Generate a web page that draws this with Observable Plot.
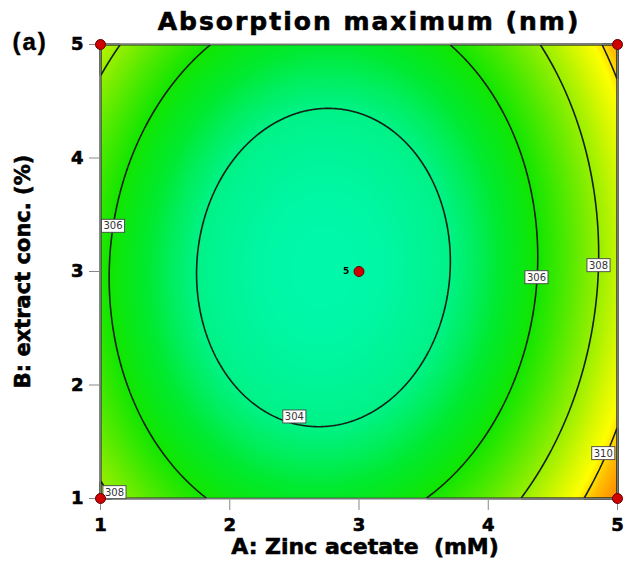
<!DOCTYPE html>
<html><head><meta charset="utf-8">
<script src="https://cdn.jsdelivr.net/npm/d3@7"></script>
<script src="https://cdn.jsdelivr.net/npm/@observablehq/plot@0.6"></script>
<style>body{margin:0;background:#fff}</style>
</head><body>
<div id="chart"></div>
<script>
const titleText = "Absorption maximum (nm)";
const panelTag = "(a)";
const xLabel = "A: Zinc acetate  (mM)";
const yLabel = "B: extract conc. (%)";
const xTicks = [1, 2, 3, 4, 5];
const yTicks = [1, 2, 3, 4, 5];
const contourLevels = [304, 306, 308, 310];
// fitted quadratic surface: minimum, centre (A,B), curvature A², B², AB
const surfaceMin = 302.92;
const surfaceCentre = [2.725, 3.035];
const surfaceCurv = [1.122, 0.55, -0.06];
// contour labels
const labelA = [1.097, 2.50, 4.373, 4.853, 4.89, 1.108];
const labelB = [3.40, 1.72, 2.947, 3.053, 1.397, 1.053];
const labelText = ["306", "304", "306", "308", "310", "308"];
// design points
const designA = [1, 1, 5, 5, 3];
const designB = [1, 5, 1, 5, 3];
const designReps = [1, 1, 1, 1, 5];
// colour ramp
const colorStops = [302.9, 304, 305, 306, 307, 308, 309, 309.7, 310.3, 311.3];
const colorRange = ["#00f8ac", "#00f286", "#00ea30", "#12e600", "#55ea00", "#98ef00", "#d8f800", "#ffff00", "#ffbe00", "#ff8000"];

function surface(a, b) {
  const da = a - surfaceCentre[0], db = b - surfaceCentre[1];
  return surfaceMin + surfaceCurv[0] * da * da + surfaceCurv[1] * db * db + surfaceCurv[2] * da * db;
}

const labels = labelText.map((t, i) => ({A: labelA[i], B: labelB[i], t}));
const design = designA.map((a, i) => ({A: a, B: designB[i], n: designReps[i]}));

const chart = Plot.plot({
  width: 624, height: 571,
  marginLeft: 100, marginRight: 7, marginTop: 44, marginBottom: 73,
  style: {fontFamily: "DejaVu Sans", fontWeight: "bold", background: "white"},
  x: {domain: [1, 5]},
  y: {domain: [1, 5]},
  color: {type: "linear", domain: colorStops, range: colorRange, interpolate: "rgb"},
  marks: [
    Plot.raster({x1: 1, x2: 5, y1: 1, y2: 5, fill: surface, pixelSize: 1}),
    Plot.contour({x1: 1, x2: 5, y1: 1, y2: 5, value: surface, thresholds: contourLevels, stroke: "#142014", strokeWidth: 1.6, fill: "none", pixelSize: 1}),
    Plot.frame({stroke: "#777", strokeWidth: 1.2}),
    Plot.axisX({ticks: xTicks, tickSize: 12, tickPadding: 8, fontSize: 18, stroke: "#888", fill: "black", label: null, tickFormat: "d", className: "heavy"}),
    Plot.axisY({ticks: yTicks, tickSize: 11, tickPadding: 6, fontSize: 18, stroke: "#888", fill: "black", label: null, tickFormat: "d", className: "heavy"}),
    Plot.text(labels, {x: "A", y: "B", text: "t", fontSize: 10, fontWeight: "normal", fill: "#333", className: "clabel"}),
    Plot.dot(design, {x: "A", y: "B", r: 5, fill: "#d00000", stroke: "#600000", strokeWidth: 1}),
    Plot.text(design.filter(d => d.n > 1), {x: "A", y: "B", text: "n", dx: -13, fontSize: 9, fill: "black"}),
    Plot.text([titleText], {frameAnchor: "top", lineAnchor: "middle", dy: -23, dx: 10, fontSize: 25, fill: "black", className: "heavy title"}),
    Plot.text([panelTag], {frameAnchor: "top-left", textAnchor: "start", lineAnchor: "middle", dx: -88, dy: -2, fontSize: 24, fontFamily: "Liberation Sans", fill: "black", className: "tag"}),
    Plot.text([xLabel], {frameAnchor: "bottom", lineAnchor: "middle", dy: 48, dx: 6, fontSize: 22, fill: "black", className: "heavy"}),
    Plot.text([yLabel], {frameAnchor: "left", rotate: -90, textAnchor: "middle", lineAnchor: "middle", dx: -77, fontSize: 21, fill: "black", className: "heavy"})
  ]
});
document.getElementById("chart").append(chart);

// heavier strokes on bold text, as in the reference
d3.select(chart).selectAll("g.heavy text").attr("stroke", "black").attr("stroke-width", 0.6);
d3.select(chart).selectAll("g.title text").attr("letter-spacing", 2);
d3.select(chart).selectAll("g.tag text").attr("letter-spacing", 2).attr("stroke", "black").attr("stroke-width", 0.4);

// white boxes behind contour labels
d3.select(chart).selectAll("g.clabel text").each(function() {
  const bb = this.getBBox();
  const tr = this.getAttribute("transform");
  d3.select(this.parentNode).insert("rect", () => this)
    .attr("x", bb.x - 2).attr("y", bb.y - 1)
    .attr("width", bb.width + 4).attr("height", bb.height + 2)
    .attr("transform", tr)
    .attr("fill", "white").attr("stroke", "#444").attr("stroke-width", 0.9);
});
</script>
</body></html>
